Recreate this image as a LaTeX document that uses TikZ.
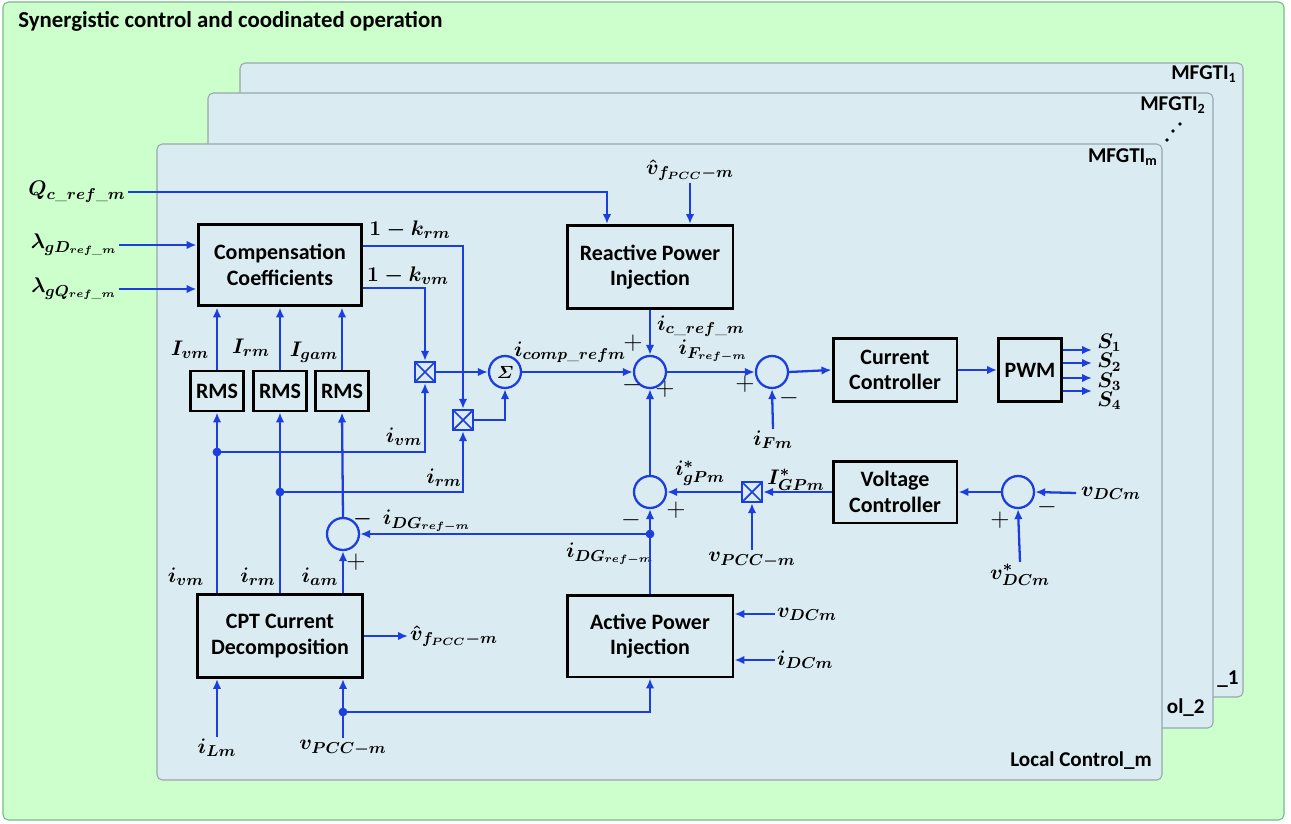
\documentclass[tikz,border=0pt]{standalone}
\usepackage{amsmath,amssymb,bm}
\usepackage{fontspec}
\setsansfont{Carlito}
\usepackage{xcolor}
\usepackage{tikz}
\usetikzlibrary{positioning,arrows.meta,calc}

\definecolor{lnblue}{RGB}{28,62,222}
\definecolor{bggreen}{RGB}{204,255,204}
\definecolor{pnlblue}{RGB}{218,236,242}
\definecolor{pnlgray}{RGB}{150,168,172}

\begin{document}
\begin{tikzpicture}[x={(0.02cm,0)}, y={(0,-0.02cm)}, >={Latex[length=2mm,width=1.7mm]},
    blk/.style={draw, line width=1.7pt, fill=pnlblue, font=\sffamily\bfseries\fontsize{12.5}{14.5}\selectfont, align=center},
    sumc/.style={circle, draw=lnblue, line width=1.3pt, minimum size=0.64cm, inner sep=0pt},
    mult/.style={draw=lnblue, line width=1.3pt, minimum size=0.4cm, inner sep=0pt,
      path picture={\draw[lnblue, line width=1pt] (path picture bounding box.north west) -- (path picture bounding box.south east)
        (path picture bounding box.south west) -- (path picture bounding box.north east);}},
    sig/.style={->, draw=lnblue, line width=1.3pt},
    wire/.style={draw=lnblue, line width=1.3pt},
    lbl/.style={font=\boldmath\fontsize{12.5}{14}\selectfont, inner sep=1pt},
    sgn/.style={font=\fontsize{14}{14}\selectfont, inner sep=0pt},
    pnl/.style={draw=pnlgray, fill=pnlblue, line width=0.6pt, rounded corners=3pt},
    ptxt/.style={font=\sffamily\bfseries\fontsize{12}{14}\selectfont, inner sep=0pt}]
  \useasboundingbox (0,0) rectangle (1291,824);

  % frames
  \draw[draw=pnlgray!80!green, fill=bggreen, line width=0.6pt, rounded corners=3pt] (3,2) rectangle (1284,820);
  \node[ptxt, anchor=west, font=\sffamily\bfseries\fontsize{13}{15}\selectfont] (title) at (18,21) {Synergistic control and coodinated operation};
  \draw[pnl] (240,63) rectangle (1243,697);
  \draw[pnl] (208,93) rectangle (1213,728);
  \draw[pnl] (157,144) rectangle (1162,780);
  \node[ptxt, anchor=east] (mf1) at (1237,74) {MFGTI\textsubscript{1}};
  \node[ptxt, anchor=east] (mf2) at (1206,105) {MFGTI\textsubscript{2}};
  \node[ptxt, anchor=east] (mfm) at (1158,157) {MFGTI\textsubscript{m}};
  \node[ptxt, anchor=east] (lc1) at (1239,679) {\_1};
  \node[ptxt, anchor=east] (lc2) at (1205,708) {ol\_2};
  \node[ptxt, anchor=east] (lcm) at (1152,761) {Local Control\_m};
  \foreach \p in {(1167,140),(1173,131),(1180,124)}
    \fill \p circle[radius=1.1pt];

  % blocks
  \node[blk, minimum width=3.28cm, minimum height=1.64cm] (comp) at (280,265) {Compensation\\Coefficients};
  \node[blk, minimum width=1.04cm, minimum height=0.8cm] (rms1) at (217,391) {RMS};
  \node[blk, minimum width=1.04cm, minimum height=0.8cm] (rms2) at (280,391) {RMS};
  \node[blk, minimum width=1.04cm, minimum height=0.8cm] (rms3) at (342,391) {RMS};
  \node[blk, minimum width=3.32cm, minimum height=1.66cm] (rpi) at (650,267) {Reactive Power\\Injection};
  \node[blk, minimum width=2.48cm, minimum height=1.26cm] (cc) at (895,370) {Current\\Controller};
  \node[blk, minimum width=1.26cm, minimum height=1.26cm] (pwm) at (1030,370) {PWM};
  \node[blk, minimum width=2.48cm, minimum height=1.24cm] (vc) at (895,492) {Voltage\\Controller};
  \node[blk, minimum width=3.3cm, minimum height=1.66cm] (cpt) at (280,636) {CPT Current\\Decomposition};
  \node[blk, minimum width=3.32cm, minimum height=1.64cm] (api) at (650,636) {Active Power\\Injection};

  % summers and multipliers
  \node[sumc] (sg) at (505,372) {$\bm{\varSigma}$};
  \node[sumc] (s1) at (650,372) {};
  \node[sumc] (s2) at (772,372) {};
  \node[sumc] (s3) at (650,492) {};
  \node[sumc] (s4) at (1018,492) {};
  \node[sumc] (s5) at (343,534) {};
  \node[mult] (m1) at (425,372) {};
  \node[mult] (m2) at (463,420) {};
  \node[mult] (m3) at (752,492) {};

  % signal labels
  \node[lbl] (qref) at (77,192) {$Q_{c\_ref\_m}$};
  \node[lbl] (lamd) at (74,245) {$\lambda_{gD_{ref\_m}}$};
  \node[lbl] (lamq) at (74,289) {$\lambda_{gQ_{ref\_m}}$};
  \node[lbl] (vhat) at (690,170) {$\hat{v}_{f_{PCC}-m}$};
  \node[lbl] (krm) at (410,230) {$1-k_{rm}$};
  \node[lbl] (kvm) at (408,276) {$1-k_{vm}$};
  \node[lbl] (Ivm) at (190,350) {$I_{vm}$};
  \node[lbl] (Irm) at (251,348) {$I_{rm}$};
  \node[lbl] (Igam) at (314,352) {$I_{gam}$};
  \node[lbl] (ivm2) at (404,437) {$i_{vm}$};
  \node[lbl] (irm2) at (444,478) {$i_{rm}$};
  \node[lbl] (idg1) at (412,521) {$-\;\,i_{DG_{ref-m}}$};
  \node[lbl] (icomp) at (570,352) {$i_{comp\_refm}$};
  \node[lbl, anchor=west] (icref) at (655,326) {$i_{c\_ref\_m}$};
  \node[lbl] (ifref) at (713,351) {$i_{F_{ref-m}}$};
  \node[lbl] (ifm) at (773,440) {$i_{Fm}$};
  \node[lbl] (igp) at (700,473) {$i^{*}_{gPm}$};
  \node[lbl] (Igp) at (796,480) {$I^{*}_{GPm}$};
  \node[lbl] (vpcc2) at (752,560) {$v_{PCC-m}$};
  \node[lbl] (idg2) at (610,554) {$i_{DG_{ref-m}}$};
  \node[lbl] (vdc1) at (1111,493) {$v_{DCm}$};
  \node[lbl] (vdcs) at (1020,575) {$v^{*}_{DCm}$};
  \node[lbl, anchor=west] (vdc2) at (775,614) {$v_{DCm}$};
  \node[lbl, anchor=west] (idc) at (775,660) {$i_{DCm}$};
  \node[lbl, anchor=west] (vhat2) at (408,636) {$\hat{v}_{f_{PCC}-m}$};
  \node[lbl] (ivm) at (186,577) {$i_{vm}$};
  \node[lbl] (irm) at (258,577) {$i_{rm}$};
  \node[lbl] (iam) at (320,577) {$i_{am}$};
  \node[lbl] (ilm) at (217,748) {$i_{Lm}$};
  \node[lbl] (vpcc) at (343,748) {$v_{PCC-m}$};
  \node[lbl, anchor=west, align=left, inner sep=0pt, font=\boldmath\fontsize{12}{8.6}\selectfont] (sw) at (1097,372)
    {$S_1$\\$S_2$\\$S_3$\\$S_4$};

  % signs
  \node[sgn] at (633,343) {$+$};
  \node[sgn] at (632,385) {$-$};
  \node[sgn] at (665,389) {$+$};
  \node[sgn] at (745,384) {$+$};
  \node[sgn] at (789,398) {$-$};
  \node[sgn] at (631,520) {$-$};
  \node[sgn] at (676,510) {$+$};
  \node[sgn] at (1000,520) {$+$};
  \node[sgn] at (1047,507) {$-$};
  \node[sgn] at (356,562) {$+$};

  % junctions
  \coordinate (jv) at (217,452);
  \coordinate (jr) at (280,492);
  \coordinate (jdg) at (650,534);
  \coordinate (jp) at (343,712);
  \foreach \j in {jv,jr,jdg,jp}
    \fill[lnblue] (\j) circle[radius=2.5pt];
  \coordinate (so1) at (1092,350);
  \coordinate (so2) at (1092,363);
  \coordinate (so3) at (1092,378);
  \coordinate (so4) at (1092,391);

  % top inputs
  \draw[sig] (qref.east) -| ($(rpi.north)+(-43,0)$);
  \draw[sig] (vhat.south) -- (vhat.south |- rpi.north);
  \draw[sig] (lamd.east) -- (lamd.east -| comp.west);
  \draw[sig] (lamq.east) -- (lamq.east -| comp.west);

  % coefficient paths
  \draw[sig] ($(comp.east)+(0,-19)$) -| (m2.north);
  \draw[sig] ($(comp.east)+(0,23)$) -| (m1.north);
  \draw[sig] (m1.east) -- (sg.west);
  \draw[sig] (m2.east) -| (sg.south);
  \draw[sig] (sg.east) -- (s1.west);
  \draw[sig] (rpi.south) -- (s1.north);
  \draw[sig] (s1.east) -- (s2.west);
  \draw[sig] (ifm.north) -- (s2.south);
  \draw[sig] (s2.east) -- (cc.west);
  \draw[sig] (cc.east) -- (pwm.west);
  \foreach \k in {1,...,4}
    \draw[sig] (pwm.east |- so\k) -- (so\k);

  % dc voltage loop
  \draw[sig] ($(vdc1.west)+(-3,0)$) -- (s4.east);
  \draw[sig] (vdcs.north) -- (s4.south);
  \draw[sig] (s4.west) -- (vc.east);
  \draw[sig] (vc.west) -- (m3.east);
  \draw[sig] (vpcc2.north) -- (m3.south);
  \draw[sig] (m3.west) -- (s3.east);
  \draw[sig] (s3.north) -- (s1.south);
  \draw[wire] (api.north) -- (jdg);
  \draw[sig] (jdg) -- (s3.south);
  \draw[sig] (jdg) -- (s5.east);
  \draw[sig] (vdc2.west) -- (vdc2.west -| api.east);
  \draw[sig] (idc.west) -- (idc.west -| api.east);

  % measured currents
  \draw[sig] (cpt.north -| rms1) -- (rms1.south);
  \draw[sig] (cpt.north -| rms2) -- (rms2.south);
  \draw[sig] (cpt.north -| s5) -- (s5.south);
  \draw[sig] (s5.north) -- (rms3.south);
  \draw[sig] (jv) -| (m1.south);
  \draw[sig] (jr) -| (m2.south);
  \draw[sig] (rms1.north) -- (rms1.north |- comp.south);
  \draw[sig] (rms2.north) -- (rms2.north |- comp.south);
  \draw[sig] (rms3.north) -- (rms3.north |- comp.south);
  \draw[sig] (cpt.east) -- (vhat2.west);
  \draw[sig] (ilm.north) -- (ilm.north |- cpt.south);
  \draw[sig] (vpcc.north) -- (vpcc.north |- cpt.south);
  \draw[sig] (jp) -| (api.south);
\end{tikzpicture}
\end{document}
